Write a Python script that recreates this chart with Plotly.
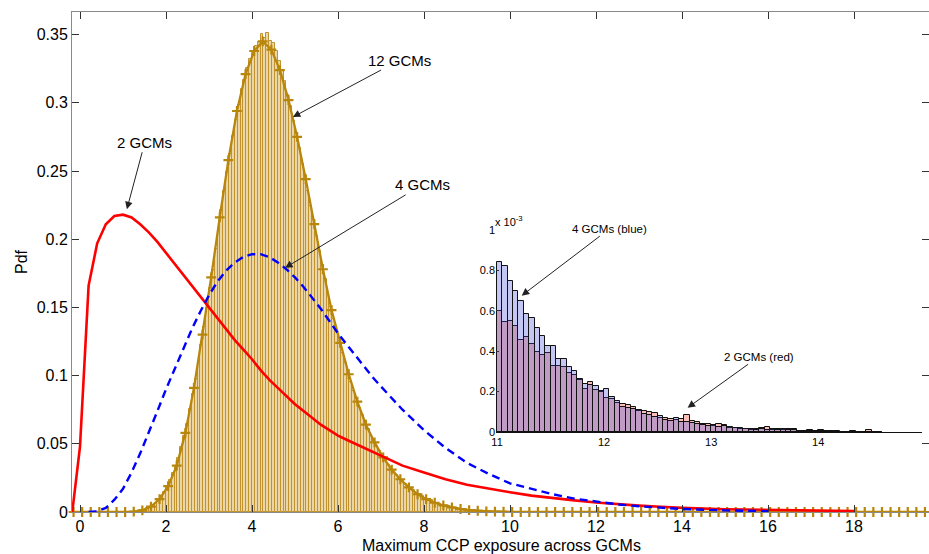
import numpy as np
import plotly.graph_objects as go

# ---- 12 GCMs: histogram of maximum exposure (bin width 1/15, first bin at 1.4)
H12_START = 1.4
H12_WIDTH = 1.0 / 15.0
h12 = [
    0.0012, 0.0018, 0.0026, 0.0036, 0.0050, 0.0068, 0.0088, 0.0115, 0.0148,
    0.0185, 0.0232, 0.0285, 0.0330, 0.0398, 0.0478, 0.0555, 0.0648, 0.0752,
    0.0865, 0.0972, 0.1095, 0.1228, 0.1355, 0.1498, 0.1642, 0.1775, 0.1930,
    0.2068, 0.2215, 0.2352, 0.2495, 0.2628, 0.2760, 0.2872, 0.2985, 0.3098,
    0.3168, 0.3255, 0.3318, 0.3365, 0.3420, 0.3445, 0.3505, 0.3478, 0.3512,
    0.3455, 0.3440, 0.3378, 0.3305, 0.3235, 0.3160, 0.3060, 0.2978, 0.2868,
    0.2770, 0.2672, 0.2555, 0.2468, 0.2352, 0.2245, 0.2140, 0.2025, 0.1915,
    0.1808, 0.1705, 0.1592, 0.1505, 0.1412, 0.1318, 0.1255, 0.1168, 0.1092,
    0.1025, 0.0950, 0.0885, 0.0825, 0.0765, 0.0708, 0.0655, 0.0608, 0.0562,
    0.0520, 0.0482, 0.0445, 0.0410, 0.0378, 0.0348, 0.0318, 0.0295, 0.0270,
    0.0248, 0.0226, 0.0208, 0.0188, 0.0172, 0.0158, 0.0142, 0.0130, 0.0118,
    0.0104, 0.0094, 0.0085, 0.0075, 0.0068, 0.0060, 0.0053, 0.0047, 0.0042,
    0.0037, 0.0033, 0.0029, 0.0025, 0.0022, 0.0019, 0.0016, 0.0014, 0.0012,
    0.0010, 0.0008, 0.0007,
]

# ---- 12 GCMs: fitted pdf, sampled every 0.2 starting at -0.15
K12_START = -0.15
K12_STEP = 0.2
k12 = [
    0, 0, 0, 0, 0, 0, 0, 0.0003, 0.0012, 0.004,
    0.0095, 0.019, 0.034, 0.058, 0.091, 0.13, 0.172, 0.216, 0.258, 0.294,
    0.321, 0.338, 0.345, 0.339, 0.324, 0.302, 0.275, 0.244, 0.211, 0.178,
    0.148, 0.124, 0.101, 0.081, 0.064, 0.051, 0.040, 0.031, 0.024, 0.018,
    0.013, 0.0095, 0.0068, 0.0048, 0.0033, 0.0022, 0.0014, 0.0009, 0.0005, 0.0003,
    0.0002, 0, 0, 0, 0, 0, 0, 0, 0, 0,
    0, 0, 0, 0, 0, 0, 0, 0, 0, 0,
    0, 0, 0, 0, 0, 0, 0, 0, 0, 0,
    0, 0, 0, 0, 0, 0, 0, 0, 0, 0,
    0, 0, 0, 0, 0, 0, 0, 0, 0, 0,
]

# ---- 2 GCMs pdf
red_x = [-0.18, 0.0, 0.2, 0.4, 0.6, 0.8, 1.0, 1.2, 1.4, 1.6, 1.8, 2.0, 2.2, 2.4,
         2.6, 2.8, 3.0, 3.2, 3.4, 3.6, 3.8, 4.0, 4.2, 4.4, 4.6, 4.8, 5.0, 5.2,
         5.4, 5.6, 5.8, 6.0, 6.2, 6.4, 6.6, 6.8, 7.0, 7.5, 8.0, 8.5, 9.0, 9.5,
         10.0, 10.5, 11.0, 11.5, 12.0, 12.5, 13.0, 13.5, 14.0, 15.0, 16.0, 17.0, 18.0]
red_y = [0.0, 0.048, 0.166, 0.197, 0.211, 0.217, 0.218, 0.216, 0.211, 0.205,
         0.198, 0.190, 0.182, 0.174, 0.166, 0.158, 0.150, 0.142, 0.134, 0.126,
         0.119, 0.112, 0.104, 0.097, 0.091, 0.085, 0.079, 0.074, 0.069, 0.064,
         0.060, 0.056, 0.053, 0.050, 0.047, 0.044, 0.041, 0.034, 0.029, 0.024,
         0.020, 0.017, 0.0145, 0.012, 0.010, 0.0085, 0.007, 0.0057, 0.0047,
         0.0038, 0.003, 0.002, 0.0014, 0.001, 0.0007]

# ---- 4 GCMs pdf
blue_x = [0.2, 0.4, 0.6, 0.8, 1.0, 1.2, 1.4, 1.6, 1.8, 2.0, 2.2, 2.4, 2.6, 2.8,
          3.0, 3.2, 3.4, 3.6, 3.8, 4.0, 4.2, 4.4, 4.6, 4.8, 5.0, 5.2, 5.4, 5.6,
          5.8, 6.0, 6.2, 6.4, 6.6, 6.8, 7.0, 7.5, 8.0, 8.5, 9.0, 9.5, 10.0, 10.5,
          11.0, 11.5, 12.0, 12.5, 13.0, 13.5, 14.0, 15.0, 16.0]
blue_y = [0.0, 0.0005, 0.003, 0.009, 0.017, 0.029, 0.043, 0.058, 0.074, 0.090,
          0.105, 0.120, 0.134, 0.147, 0.159, 0.169, 0.177, 0.183, 0.187, 0.189,
          0.189, 0.187, 0.183, 0.178, 0.172, 0.165, 0.157, 0.149, 0.140, 0.131,
          0.123, 0.115, 0.107, 0.099, 0.092, 0.075, 0.060, 0.047, 0.036, 0.028,
          0.021, 0.017, 0.013, 0.0098, 0.0075, 0.0056, 0.0042, 0.003, 0.0022,
          0.0012, 0.0006]

# ---- tail histograms (x 1e-3), bins of 0.05 starting at 11.0
IN_START = 11.0
IN_WIDTH = 0.05
in_blue = [0.84, 0.82, 0.75, 0.70, 0.65, 0.585, 0.565, 0.515, 0.475, 0.425,
           0.425, 0.36, 0.36, 0.32, 0.30, 0.26, 0.24, 0.235, 0.228, 0.205,
           0.215, 0.175, 0.155, 0.125, 0.12, 0.115, 0.11, 0.09, 0.085, 0.075,
           0.08, 0.058, 0.055, 0.068, 0.05, 0.048, 0.045, 0.04, 0.035, 0.03,
           0.033, 0.025, 0.028, 0.025, 0.018, 0.018, 0.015, 0.017, 0.012, 0.015,
           0.010, 0.013, 0.008, 0.013, 0.010, 0.008, 0.005, 0.004, 0.003, 0.002,
           0.004, 0.002, 0.0, 0.003, 0.002, 0.0, 0.002, 0.0, 0.002, 0.0,
           0.0, 0.0]
in_red = [0.60, 0.545, 0.55, 0.525, 0.455, 0.47, 0.435, 0.395, 0.38, 0.39,
          0.325, 0.325, 0.32, 0.29, 0.28, 0.255, 0.215, 0.247, 0.21, 0.20,
          0.17, 0.165, 0.145, 0.14, 0.135, 0.125, 0.105, 0.105, 0.097, 0.092,
          0.07, 0.067, 0.063, 0.06, 0.063, 0.083, 0.055, 0.05, 0.038, 0.038,
          0.028, 0.038, 0.033, 0.02, 0.022, 0.015, 0.017, 0.012, 0.017, 0.022,
          0.025, 0.010, 0.013, 0.010, 0.013, 0.013, 0.003, 0.002, 0.010, 0.003,
          0.008, 0.003, 0.006, 0.001, 0.002, 0.002, 0.003, 0.0, 0.001, 0.008,
          0.0, 0.002]

main_ticks = [0, 2, 4, 6, 8, 10, 12, 14, 16, 18]
pdf_ticks = [0, 0.05, 0.1, 0.15, 0.2, 0.25, 0.3, 0.35]
pdf_tick_text = ["0", "0.05", "0.1", "0.15", "0.2", "0.25", "0.3", "0.35"]
inset_xticks = [11, 12, 13, 14]
inset_yticks = [0, 0.2, 0.4, 0.6, 0.8, 1.0]
inset_ytext = ["0", "0.2", "0.4", "0.6", "0.8", "1"]

FONT = "Liberation Sans, Arial, Helvetica, sans-serif"
GOLD = "rgb(184,134,11)"

h12_x = H12_START + (np.arange(len(h12)) + 0.5) * H12_WIDTH
k12_x = K12_START + np.arange(len(k12)) * K12_STEP
in_x = IN_START + (np.arange(len(in_blue)) + 0.5) * IN_WIDTH

fig = go.Figure()

fig.add_trace(go.Bar(
    x=h12_x, y=h12, width=H12_WIDTH,
    marker=dict(color="rgb(234,214,166)", line=dict(color="rgb(194,146,44)", width=1)),
    showlegend=False, xaxis="x", yaxis="y",
))
fig.add_trace(go.Scatter(
    x=k12_x, y=k12, mode="lines+markers",
    line=dict(color=GOLD, width=2.3),
    marker=dict(symbol="cross-thin", size=7, line=dict(color=GOLD, width=2.2)),
    cliponaxis=False, showlegend=False,
))
fig.add_trace(go.Scatter(
    x=red_x, y=red_y, mode="lines",
    line=dict(color="#ff0000", width=2.6), showlegend=False,
))
fig.add_trace(go.Scatter(
    x=blue_x, y=blue_y, mode="lines",
    line=dict(color="#0000ff", width=2.4, dash="8px,5px"), showlegend=False,
))

# tail detail
fig.add_trace(go.Bar(
    x=in_x, y=in_red, width=IN_WIDTH,
    marker=dict(color="rgba(245,150,140,0.6)", line=dict(color="#111", width=1)),
    showlegend=False, xaxis="x2", yaxis="y2",
))
fig.add_trace(go.Bar(
    x=in_x, y=in_blue, width=IN_WIDTH,
    marker=dict(color="rgba(60,70,220,0.3)", line=dict(color="#111", width=1)),
    showlegend=False, xaxis="x2", yaxis="y2",
))

ann_main = dict(font=dict(family=FONT, size=15, color="black"), showarrow=True,
                arrowhead=2, arrowsize=1.5, arrowwidth=1, arrowcolor="#222",
                axref="pixel", ayref="pixel")
ann_inset = dict(font=dict(family=FONT, size=11.5, color="black"), showarrow=True,
                 arrowhead=2, arrowsize=1.5, arrowwidth=1, arrowcolor="#222",
                 axref="pixel", ayref="pixel")

annotations = [
    dict(text="12 GCMs", x=4.95, y=0.2896, xref="x", yref="y", ax=107, ay=-57, **ann_main),
    dict(text="4 GCMs", x=4.77, y=0.179, xref="x", yref="y", ax=137, ay=-83, **ann_main),
    dict(text="2 GCMs", x=1.09, y=0.222, xref="x", yref="y", ax=18, ay=-67, **ann_main),
    dict(text="4 GCMs (blue)", x=11.23, y=0.675, xref="x2", yref="y2", ax=88, ay=-67, **ann_inset),
    dict(text="2 GCMs (red)", x=12.78, y=0.12, xref="x2", yref="y2", ax=71, ay=-51, **ann_inset),
    dict(text="x 10<sup>-3</sup>", x=(493 - 72) / 857, y=(512 - 221) / 500,
         xref="paper", yref="paper", showarrow=False,
         font=dict(family=FONT, size=11, color="black"),
         xanchor="left", yanchor="middle"),
    dict(text="Maximum CCP exposure across GCMs", x=(502 - 72) / 857, y=(512 - 545) / 500,
         xref="paper", yref="paper", showarrow=False, xanchor="center", yanchor="middle",
         font=dict(family=FONT, size=16, color="black")),
    dict(text="Pdf", x=(21 - 72) / 857, y=0.5, xref="paper", yref="paper", textangle=-90,
         showarrow=False, xanchor="center", yanchor="middle",
         font=dict(family=FONT, size=16, color="black")),
]

fig.update_layout(
    width=929, height=554,
    margin=dict(l=72, r=0, t=12, b=42),
    paper_bgcolor="white", plot_bgcolor="rgba(0,0,0,0)",
    barmode="overlay", bargap=0,
    font=dict(family=FONT, size=16, color="black"),
    xaxis=dict(domain=[0, 1], range=[-0.186, 19.744], tickvals=main_ticks,
               ticks="inside", ticklen=7, tickcolor="#333", showline=True,
               linecolor="#8a8a8a", linewidth=1, mirror="ticks", showgrid=False,
               zeroline=False, tickfont=dict(family=FONT, size=16)),
    yaxis=dict(domain=[0, 1], range=[0, 0.3666], tickvals=pdf_ticks, ticktext=pdf_tick_text,
               ticks="inside", ticklen=7, tickcolor="#333", showline=True,
               linecolor="#8a8a8a", linewidth=1, mirror="ticks", showgrid=False,
               zeroline=False, tickfont=dict(family=FONT, size=16)),
    xaxis2=dict(domain=[(496 - 72) / 857, (922 - 72) / 857], range=[10.99, 14.97],
                anchor="y2", tickvals=inset_xticks, ticks="", showline=True,
                linecolor="#111", linewidth=1, showgrid=False, zeroline=False,
                tickfont=dict(family=FONT, size=11)),
    yaxis2=dict(domain=[(512 - 432) / 500, (512 - 230) / 500], range=[0, 1.0],
                anchor="x2", tickvals=inset_yticks, ticktext=inset_ytext,
                ticks="inside", ticklen=3, tickcolor="#333", showline=False,
                showgrid=False, zeroline=False, tickfont=dict(family=FONT, size=11)),
    annotations=annotations,
)

fig.write_html("out.html")
